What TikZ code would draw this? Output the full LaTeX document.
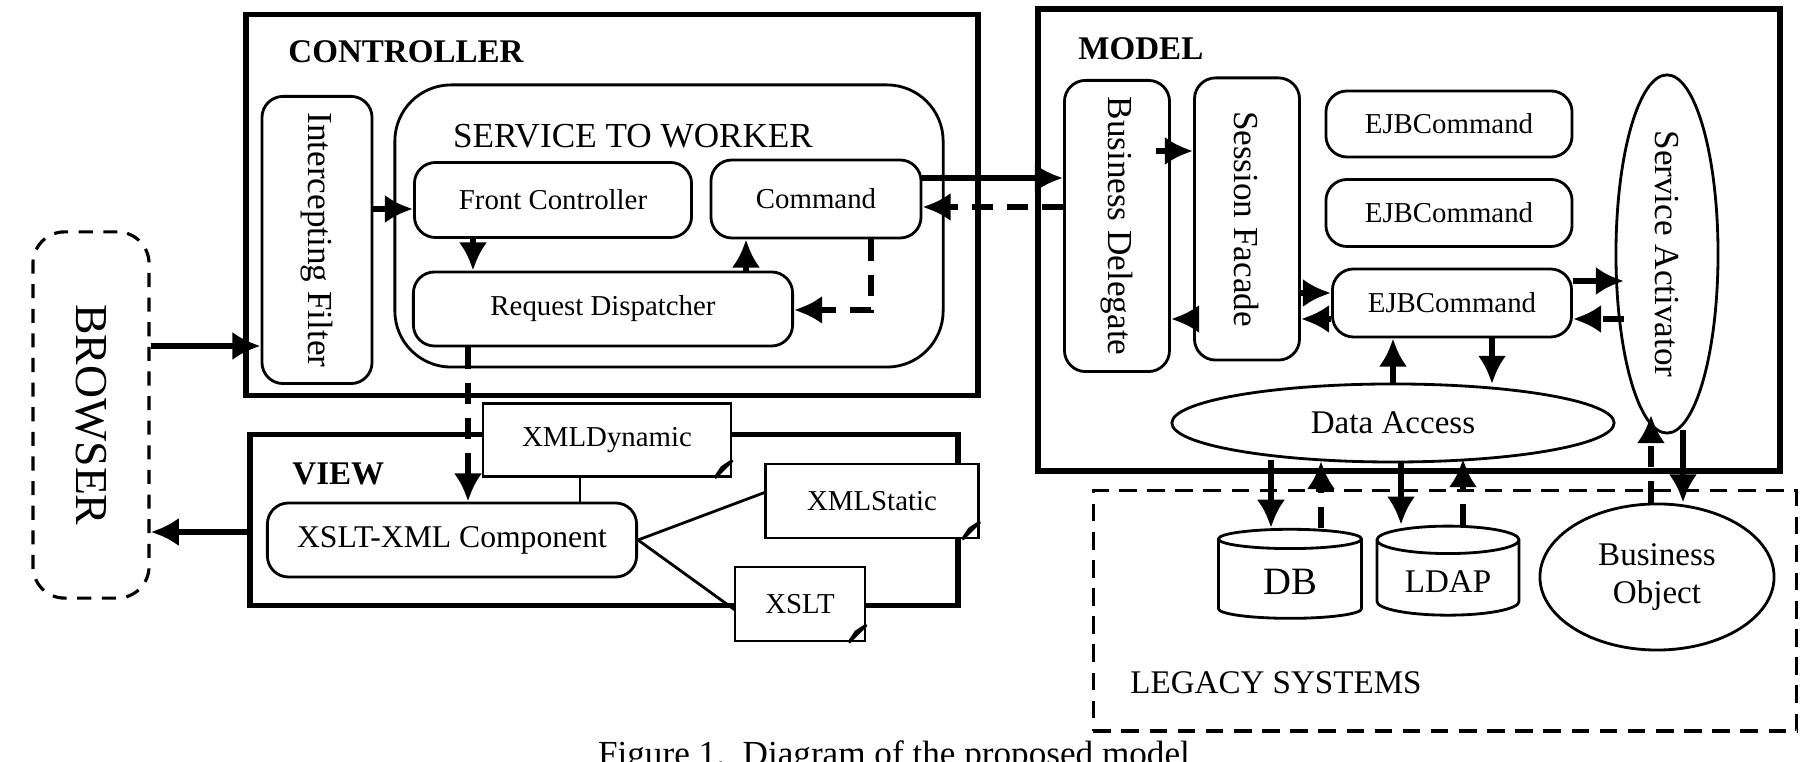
\documentclass[tikz,border=0pt]{standalone}
\usepackage{fontspec}
\setmainfont{Liberation Serif}
\usetikzlibrary{shapes.geometric,arrows.meta}
\tikzset{
  part/.style={draw, line width=1.6pt},
  box/.style={draw, rounded corners=6pt, line width=0.8pt, font=\fontsize{8.2}{10}\selectfont},
  vbox/.style={box, font=\fontsize{10}{12}\selectfont},
  doc/.style={draw, fill=white, line width=0.8pt, inner sep=0pt, font=\fontsize{8.2}{10}\selectfont},
  go/.style={-{Latex[length=8pt,width=8pt]}, line width=1.5pt},
  back/.style={go, dash pattern=on 6pt off 4pt},
  title/.style={font=\bfseries\fontsize{9.4}{11}\selectfont, anchor=west}
}
\begin{document}
\begin{tikzpicture}[x=0.01cm,y=-0.01cm]
\useasboundingbox (0,0) rectangle (1811,762);

% outer parts
\node[part, minimum width=7.31cm, minimum height=3.81cm] (ctrl) at (612,205) {};
\node[title] at (276,52) {CONTROLLER};
\node[part, minimum width=7.41cm, minimum height=4.62cm] (model) at (1409,240) {};
\node[title] at (1066,49) {MODEL};
\node[part, minimum width=7.07cm, minimum height=1.71cm] (view) at (604,520) {};
\node[title] at (280,474) {VIEW};
\node[draw, dash pattern=on 5pt off 3pt, line width=0.9pt, minimum width=7.03cm, minimum height=2.40cm] (legacy) at (1445,611) {};
\node[anchor=west, font=\fontsize{9.4}{11}\selectfont] at (1118,683) {LEGACY SYSTEMS};
\node[draw, dash pattern=on 4pt off 3pt, line width=0.9pt, rounded corners=9pt, minimum width=1.16cm, minimum height=3.66cm] (browser) at (91,415) {};
\node[rotate=-90, font=\fontsize{13}{15}\selectfont] at (91,415) {BROWSER};

% controller
\node[vbox, minimum width=1.10cm, minimum height=2.87cm] (filter) at (317,240) {};
\node[rotate=-90, font=\fontsize{10}{12}\selectfont] at (317,240) {Intercepting Filter};
\node[draw, rounded corners=16pt, line width=0.8pt, minimum width=5.48cm, minimum height=2.82cm] (stw) at (669,226) {};
\node[font=\fontsize{10}{12}\selectfont] at (633,136) {SERVICE TO WORKER};
\node[box, minimum width=2.77cm, minimum height=0.75cm] (front) at (553,200) {Front Controller};
\node[box, minimum width=2.10cm, minimum height=0.78cm] (cmd) at (816,199) {Command};
\node[box, minimum width=3.79cm, minimum height=0.74cm] (disp) at (603,309) {Request Dispatcher};

% model
\node[vbox, minimum width=1.05cm, minimum height=2.91cm] (deleg) at (1117,226) {};
\node[rotate=-90, font=\fontsize{10}{12}\selectfont] at (1117,226) {Business Delegate};
\node[vbox, minimum width=1.05cm, minimum height=2.82cm] (facade) at (1247,219) {};
\node[rotate=-90, font=\fontsize{10}{12}\selectfont] at (1247,219) {Session Facade};
\node[box, minimum width=2.46cm, minimum height=0.66cm] (ejba) at (1449,124) {EJBCommand};
\node[box, minimum width=2.46cm, minimum height=0.67cm] (ejbb) at (1449,213) {EJBCommand};
\node[box, minimum width=2.39cm, minimum height=0.68cm] (ejbc) at (1452,303) {EJBCommand};
\node[draw, ellipse, line width=0.8pt, minimum width=1.02cm, minimum height=3.58cm] (activ) at (1667,254) {};
\node[rotate=-90, font=\fontsize{10}{12}\selectfont] at (1667,254) {Service Activator};
\node[draw, ellipse, fill=white, line width=0.8pt, minimum width=4.42cm, minimum height=0.78cm, font=\fontsize{9.4}{11}\selectfont] (data) at (1393,423) {Data Access};

% legacy
\node[draw, cylinder, shape border rotate=90, aspect=0.25, line width=0.8pt, minimum width=1.43cm, minimum height=0.89cm, font=\fontsize{11}{13}\selectfont] (db) at (1290,582) {DB};
\node[draw, cylinder, shape border rotate=90, aspect=0.25, line width=0.8pt, minimum width=1.42cm, minimum height=0.89cm, font=\fontsize{9.4}{11}\selectfont] (ldap) at (1448,582) {LDAP};
\node[draw, ellipse, line width=0.8pt, minimum width=2.34cm, minimum height=1.46cm, align=center, font=\fontsize{9.4}{11}\selectfont] (bobj) at (1657,577) {Business\\Object};

% view
\node[box, minimum width=3.69cm, minimum height=0.74cm, font=\fontsize{9}{11}\selectfont] (xslc) at (452,540) {XSLT-XML Component};
\draw[line width=0.8pt] (xslc.north -| 580,0) -- (580,470);
\draw[line width=0.8pt] (xslc.east) -- (766,492);
\draw[line width=0.8pt] (xslc.east) -- (735,610);
\node[doc, minimum width=2.48cm, minimum height=0.73cm] (xdyn) at (607,440) {XMLDynamic};
\node[doc, minimum width=2.13cm, minimum height=0.74cm] (xsta) at (872,501) {XMLStatic};
\node[doc, minimum width=1.30cm, minimum height=0.74cm] (xslt) at (800,604) {XSLT};
\foreach \d in {xdyn,xsta,xslt}
  \draw[line width=0.8pt, fill=black] ([yshift=5pt]\d.south east) -- ([xshift=-5pt]\d.south east) -- ([xshift=-3pt,yshift=3pt]\d.south east) -- cycle;

% connectors
\draw[go] (browser.east |- 0,346) -- (filter.west |- 0,346);
\draw[go] (view.west |- 0,532) -- (browser.east |- 0,532);
\draw[go] (filter.east |- 0,209) -- (front.west |- 0,209);
\draw[go] (front.south -| 473,0) -- (disp.north -| 473,0);
\draw[go] (disp.north -| 746,0) -- (cmd.south -| 746,0);
\draw[back] (cmd.south -| 871,0) |- (disp.east |- 0,310);
\draw[back] (disp.south -| 468,0) -- (xslc.north -| 468,0);
\draw[go] (cmd.east |- 0,178) -- (deleg.west |- 0,178);
\draw[back] (deleg.west |- 0,207) -- (cmd.east |- 0,207);
\draw[go] (1156,151) -- (facade.west |- 0,151);
\draw[go] (facade.east |- 0,293) -- (ejbc.west |- 0,293);
\draw[back] (ejbc.west |- 0,319) -- (facade.east |- 0,319);
\draw[back] (facade.west |- 0,319) -- (deleg.east |- 0,319);
\draw[go] (ejbc.east |- 0,281) -- (1624,281);
\draw[back] (1624,319) -- (ejbc.east |- 0,319);
\draw[back] (data.north -| 1393,0) -- (ejbc.south -| 1393,0);
\draw[go] (ejbc.south -| 1492,0) -- (1492,384);
\draw[go] (1271,460) -- (db.top -| 1271,0);
\draw[back] (db.top -| 1321,0) -- (1321,461);
\draw[go] (1401,461) -- (ldap.top -| 1401,0);
\draw[back] (ldap.top -| 1463,0) -- (1463,459);
\draw[back] (bobj.north -| 1651,0) -- (1651,415);
\draw[go] (1683,430) -- (bobj.north -| 1683,0);

\node[font=\fontsize{10}{12}\selectfont] (cap) at (894,757) {Figure 1.\ \ Diagram of the proposed model};
\end{tikzpicture}
\end{document}
